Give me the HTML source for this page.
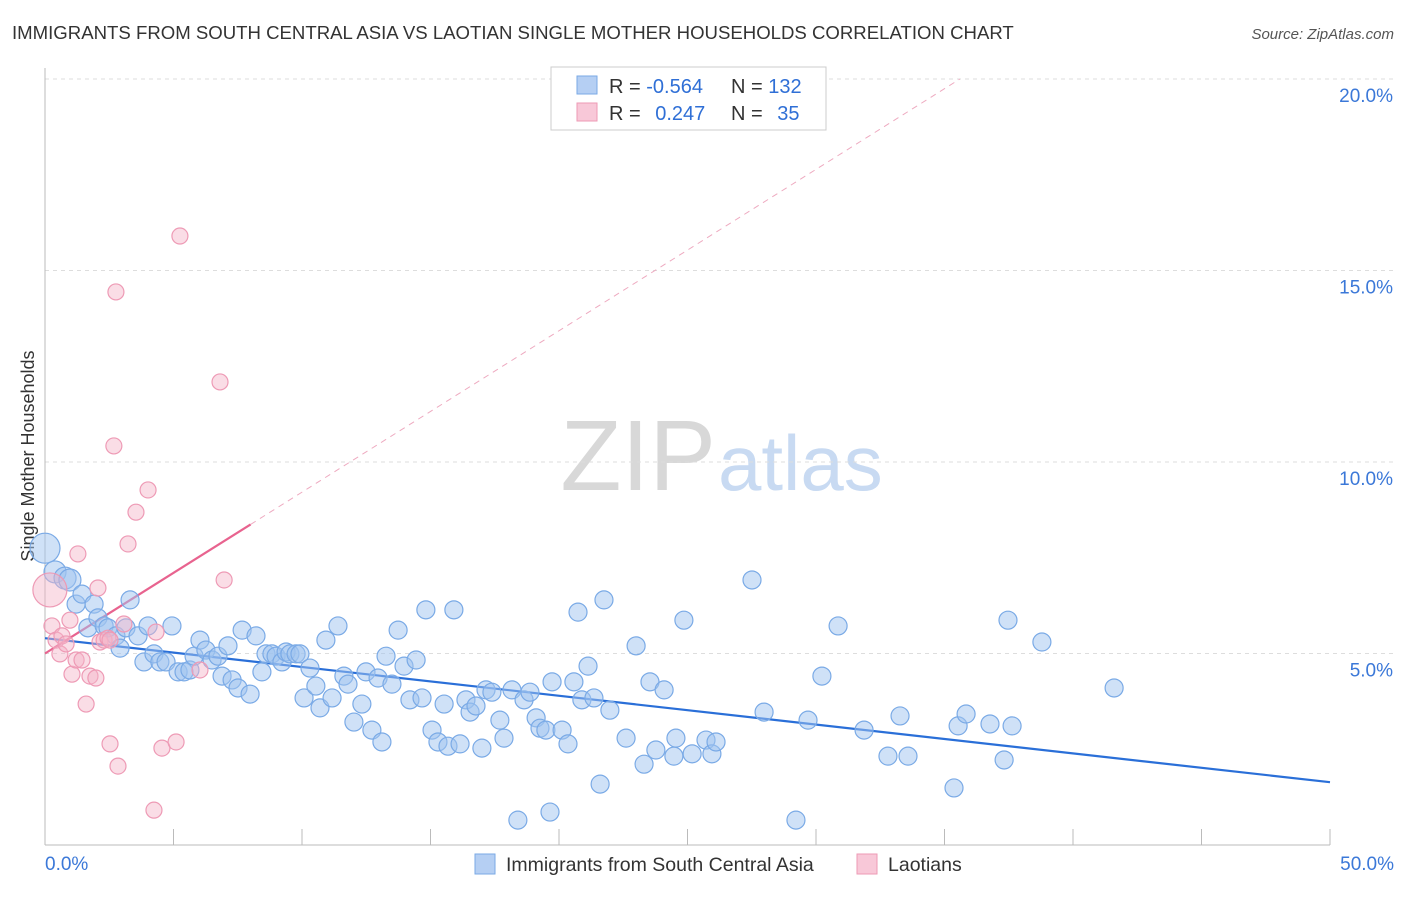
<!DOCTYPE html>
<html><head><meta charset="utf-8"><style>
body{margin:0;background:#fff;font-family:"Liberation Sans",sans-serif;}
svg text{font-family:"Liberation Sans",sans-serif;}
</style></head><body>
<svg id="chart" width="1406" height="892">
<text x="12" y="39" font-size="18.6" fill="#333">IMMIGRANTS FROM SOUTH CENTRAL ASIA VS LAOTIAN SINGLE MOTHER HOUSEHOLDS CORRELATION CHART</text>
<text x="1394" y="39" font-size="15" fill="#555" font-style="italic" text-anchor="end">Source: ZipAtlas.com</text>
<text x="716" y="490" font-size="100" fill="#d8d8d8" text-anchor="end" font-family="Liberation Serif">ZIP</text>
<text x="718" y="490" font-size="78" fill="#c8daf2">atlas</text>
<text transform="translate(34,456) rotate(-90)" font-size="18" fill="#333" text-anchor="middle">Single Mother Households</text>
<g id="grid"></g><g id="axes"></g><g id="lines"></g><g id="pts"></g>
<g>
<rect x="551" y="67" width="275" height="63" fill="#fff" stroke="#ccc"/>
<rect x="577" y="76" width="20" height="18" fill="#b5cff3" stroke="#7aaae6"/>
<rect x="577" y="103" width="20" height="18" fill="#f8c8d8" stroke="#ee9ab5"/>
<text x="609" y="93" font-size="20" fill="#333">R = <tspan fill="#2f6fd6">-0.564</tspan></text>
<text x="731" y="93" font-size="20" fill="#333">N = <tspan fill="#2f6fd6">132</tspan></text>
<text x="609" y="120" font-size="20" fill="#333">R = <tspan fill="#2f6fd6" dx="9">0.247</tspan></text>
<text x="731" y="120" font-size="20" fill="#333">N = <tspan fill="#2f6fd6" dx="9">35</tspan></text>
</g>
<g>
<rect x="475" y="854" width="20" height="20" fill="#b5cff3" stroke="#7aaae6"/>
<text x="506" y="871" font-size="19.5" fill="#333">Immigrants from South Central Asia</text>
<rect x="857" y="854" width="20" height="20" fill="#f8c8d8" stroke="#ee9ab5"/>
<text x="888" y="871" font-size="19.5" fill="#333">Laotians</text>
</g>
</svg>
<script>
const blueX=[0,0.39,0.78,0.97,1.21,1.44,1.67,1.91,2.06,2.30,2.45,2.76,2.92,3.15,3.31,3.62,3.85,4.01,4.24,4.47,4.71,4.94,5.18,5.41,5.64,5.80,6.03,6.26,6.50,6.73,6.89,7.12,7.28,7.51,7.67,7.98,8.21,8.44,8.60,8.83,8.99,9.22,9.38,9.53,9.77,9.92,10.08,10.31,10.54,10.70,10.93,11.17,11.40,11.63,11.79,12.02,12.33,12.49,12.72,12.96,13.11,13.27,13.50,13.74,13.97,14.20,14.44,14.67,14.82,15.06,15.29,15.53,15.68,15.91,16.15,16.38,16.54,16.77,17.00,17.16,17.39,17.70,17.86,18.17,18.40,18.64,18.87,19.11,19.26,19.49,19.65,19.73,20.12,20.35,20.58,20.74,20.89,21.13,21.36,21.60,21.75,21.98,22.61,23.00,23.31,23.54,23.77,24.09,24.47,24.55,24.86,25.18,25.72,25.95,26.11,27.51,27.98,29.22,29.69,30.86,30.23,31.87,32.80,33.27,33.58,35.37,35.53,35.84,36.77,37.32,37.47,37.63,38.79,41.60];
const blueY=[7.75,7.13,6.97,6.92,6.29,6.55,5.67,6.29,5.93,5.72,5.67,5.46,5.14,5.67,6.40,5.46,4.78,5.72,4.99,4.78,4.78,5.72,4.52,4.52,4.57,4.93,5.35,5.09,4.83,4.93,4.41,5.20,4.31,4.10,5.61,3.94,5.46,4.52,4.99,4.99,4.93,4.78,5.04,4.99,4.99,4.99,3.84,4.62,4.15,3.58,5.35,3.84,5.72,4.41,4.20,3.21,3.68,4.52,3.00,4.36,2.69,4.93,4.20,5.61,4.67,3.79,4.83,3.84,6.14,3.00,2.69,3.68,2.58,6.14,2.64,3.79,3.47,3.63,2.53,4.05,3.99,3.26,2.79,4.05,0.65,3.79,3.99,3.32,3.05,3.00,0.86,4.26,3.00,2.64,4.26,6.08,3.79,4.67,3.84,1.59,6.40,3.52,2.79,5.20,2.11,4.26,2.48,4.05,2.32,2.79,5.87,2.38,2.74,2.38,2.69,6.92,3.47,0.65,3.26,5.72,4.41,3.00,2.32,3.37,2.32,1.49,3.11,3.42,3.16,2.22,5.87,3.11,5.30,4.10];
const pinkX=[0.19,0.27,0.43,0.58,0.66,0.82,0.97,1.05,1.21,1.28,1.44,1.60,1.75,1.98,2.06,2.14,2.30,2.45,2.53,2.53,2.68,2.76,2.84,3.07,3.23,3.54,4.01,4.24,4.32,4.55,5.10,5.25,6.03,6.81,6.97];
const pinkY=[6.66,5.72,5.35,4.99,5.46,5.25,5.87,4.46,4.83,7.60,4.83,3.68,4.41,4.36,6.71,5.30,5.35,5.40,2.64,5.35,10.42,14.44,2.06,5.77,7.86,8.69,9.27,0.91,5.56,2.53,2.69,15.90,4.57,12.09,6.92];
const xTicks=[0,5,10,15,20,25,30,35,40,45,50];
const yTicks=[5,10,15,20];
const blueTrend=[[0,5.4],[50,1.64]];
const pinkTrend=[[0,5.0],[8.0,8.37]];
const pinkDash=[[8.0,8.37],[35.6,20.0]];
const NS='http://www.w3.org/2000/svg';
const X=v=>45+v*25.7, Y=v=>845-v*38.3;
function mk(tag,attrs,parent){const e=document.createElementNS(NS,tag);for(const k in attrs)e.setAttribute(k,attrs[k]);document.getElementById(parent).appendChild(e);return e;}
yTicks.forEach(t=>{
 const l=mk('line',{x1:45,x2:1394,y1:Y(t),y2:Y(t),stroke:'#ddd','stroke-dasharray':'4,4'},'grid');
 
 
 const tx=mk('text',{x:1393,y:Y(t)+23,'font-size':19,fill:'#3b78d8','text-anchor':'end'},'axes');
 tx.textContent=t.toFixed(1)+'%';
 
 
});
const ax=mk('line',{x1:45,x2:1330,y1:845,y2:845,stroke:'#bbb'},'axes');


const ay=mk('line',{x1:45,x2:45,y1:68,y2:845,stroke:'#bbb'},'axes');


xTicks.forEach(t=>{
 const l=mk('line',{x1:X(t),x2:X(t),y1:829,y2:845,stroke:'#bbb'},'axes');
 
 
});
[[0,'start'],[50,'end']].forEach(([t,a])=>{
 const tx=mk('text',{x:X(t)+(t==0?0:64),y:870,'font-size':19,fill:'#3b78d8','text-anchor':a},'axes');
 tx.textContent=t.toFixed(1)+'%';
 
 
});
blueX.forEach((v,i)=>{
 const c=mk('circle',{cx:X(v),cy:Y(blueY[i]),r:i<4?(i==0?15:11):9,fill:'rgba(160,196,240,0.5)',stroke:'#7aaae6','stroke-width':1.2},'pts');
 
 
});
pinkX.forEach((v,i)=>{
 const c=mk('circle',{cx:X(v),cy:Y(pinkY[i]),r:i==0?17:8,fill:'rgba(245,180,200,0.45)',stroke:'#ee9ab5','stroke-width':1.2},'pts');
 
 
});
let l=mk('line',{x1:X(blueTrend[0][0]),y1:Y(blueTrend[0][1]),x2:X(blueTrend[1][0]),y2:Y(blueTrend[1][1]),stroke:'#2a6fd8','stroke-width':2.2},'lines');


l=mk('line',{x1:X(pinkTrend[0][0]),y1:Y(pinkTrend[0][1]),x2:X(pinkTrend[1][0]),y2:Y(pinkTrend[1][1]),stroke:'#e8638f','stroke-width':2.2},'lines');


l=mk('line',{x1:X(pinkDash[0][0]),y1:Y(pinkDash[0][1]),x2:X(pinkDash[1][0]),y2:Y(pinkDash[1][1]),stroke:'#eeaac0','stroke-width':1,'stroke-dasharray':'6,5'},'lines');


</script>
</body></html>
